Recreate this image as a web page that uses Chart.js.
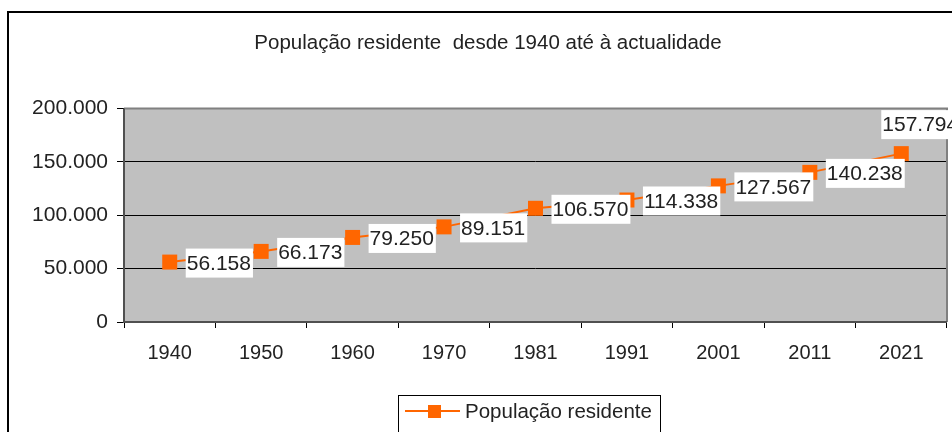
<!DOCTYPE html>
<html>
<head>
<meta charset="utf-8">
<script src="https://cdn.jsdelivr.net/npm/chart.js@4.4.1/dist/chart.umd.min.js"></script>
<style>
  html, body { margin: 0; padding: 0; background: #fff; }
  #wrap { width: 952px; height: 432px; position: relative; }
</style>
</head>
<body>
<div id="wrap"><canvas id="c" width="952" height="432"></canvas></div>
<script>
const chartTitle = 'População residente  desde 1940 até à actualidade';
const seriesName = 'População residente';
const years = ['1940', '1950', '1960', '1970', '1981', '1991', '2001', '2011', '2021'];
const population = [56158, 66173, 79250, 89151, 106570, 114338, 127567, 140238, 157794];
const yTicks = [0, 50000, 100000, 150000, 200000];

const FONT = '"Liberation Sans", Arial, Helvetica, sans-serif';
const TEXT = '#222222';
const ORANGE = '#FF6600';

function fmt(v) {
  return String(Math.round(v)).replace(/\B(?=(\d{3})+(?!\d))/g, '.');
}

const framePlugin = {
  id: 'frame',
  beforeDraw(chart) {
    const { ctx, chartArea: a } = chart;
    ctx.save();
    ctx.fillStyle = '#ffffff';
    ctx.fillRect(0, 0, chart.width, chart.height);
    ctx.fillStyle = '#C0C0C0';
    ctx.fillRect(a.left, a.top, a.right - a.left, a.bottom - a.top);
    ctx.strokeStyle = '#000';
    ctx.lineWidth = 2;
    ctx.strokeRect(8, 12, chart.width + 20, chart.height + 20);
    ctx.restore();
  },
  beforeDatasetsDraw(chart) {
    const { ctx, chartArea: a } = chart;
    ctx.save();
    ctx.strokeStyle = '#808080';
    ctx.lineWidth = 2;
    ctx.beginPath();
    ctx.moveTo(a.left, a.top);
    ctx.lineTo(a.right, a.top);
    ctx.lineTo(a.right, a.bottom);
    ctx.stroke();
    ctx.strokeStyle = '#505050';
    ctx.lineWidth = 2;
    ctx.beginPath();
    ctx.moveTo(a.left, a.top);
    ctx.lineTo(a.left, a.bottom);
    ctx.lineTo(a.right, a.bottom);
    ctx.stroke();
    ctx.restore();
  },
  afterDatasetsDraw(chart) {
    const { ctx } = chart;
    const meta = chart.getDatasetMeta(0);
    const data = chart.data.datasets[0].data;
    ctx.save();
    ctx.font = '21px ' + FONT;
    ctx.textBaseline = 'middle';
    ctx.textAlign = 'left';
    const n = meta.data.length;
    meta.data.forEach((pt, i) => {
      const txt = fmt(data[i]);
      const w = ctx.measureText(txt).width;
      const bw = w + 3, bh = 29;
      let bx, cy;
      if (i === n - 1) { bx = pt.x - 20; cy = pt.y - 29; }
      else { bx = pt.x + 16; cy = pt.y + 1; }
      ctx.fillStyle = '#ffffff';
      ctx.fillRect(bx, cy - bh / 2, bw, bh);
      ctx.fillStyle = TEXT;
      ctx.fillText(txt, bx + 1, cy + 1);
    });
    ctx.restore();
  },
  afterDraw(chart) {
    const { ctx } = chart;
    ctx.save();
    ctx.strokeStyle = '#000';
    ctx.lineWidth = 1;
    ctx.strokeRect(398.5, 395.5, 262, 60);
    ctx.strokeStyle = ORANGE;
    ctx.lineWidth = 2;
    ctx.beginPath();
    ctx.moveTo(405, 411);
    ctx.lineTo(460, 411);
    ctx.stroke();
    ctx.fillStyle = ORANGE;
    ctx.fillRect(428, 405, 13, 13);
    ctx.fillStyle = TEXT;
    ctx.font = '20.5px ' + FONT;
    ctx.textBaseline = 'middle';
    ctx.fillText(chart.data.datasets[0].label, 465, 412);
    ctx.restore();
  }
};

new Chart(document.getElementById('c'), {
  type: 'line',
  data: {
    labels: years,
    datasets: [{
      label: seriesName,
      data: population,
      borderColor: ORANGE,
      backgroundColor: ORANGE,
      borderWidth: 2,
      pointStyle: 'rect',
      pointRadius: 10.6,
      pointHoverRadius: 10.6,
      pointBorderWidth: 0,
      pointBackgroundColor: ORANGE,
      tension: 0,
      clip: false
    }]
  },
  options: {
    responsive: false,
    animation: false,
    events: [],
    layout: { autoPadding: false, padding: { left: 29, right: 5, top: 0, bottom: 0 } },
    plugins: {
      legend: { display: false },
      tooltip: { enabled: false },
      title: {
        display: true,
        text: chartTitle,
        color: TEXT,
        font: { family: FONT, size: 20.5, weight: 'normal', lineHeight: 1.2 },
        padding: { top: 31, bottom: 53 }
      }
    },
    scales: {
      x: {
        offset: true,
        grid: { display: true, offset: true, drawOnChartArea: false, drawTicks: true, tickLength: 6, color: '#000', lineWidth: 1 },
        border: { display: false },
        ticks: { color: TEXT, font: { family: FONT, size: 20 }, padding: 13, maxRotation: 0, autoSkip: false },
        afterFit(scale) { scale.height = 110; scale.paddingLeft = 0; scale.paddingRight = 0; }
      },
      y: {
        min: 0,
        max: 200000,
        afterBuildTicks(scale) { scale.ticks = yTicks.map(v => ({ value: v })); },
        grid: {
          color: (c) => (c.tick && c.tick.value === 200000) ? 'rgba(0,0,0,0)' : '#000',
          lineWidth: 1,
          tickLength: 7,
          tickColor: '#000',
          drawTicks: true
        },
        border: { display: false },
        ticks: { color: TEXT, font: { family: FONT, size: 21 }, padding: 9, callback: (v) => fmt(v) },
        afterFit(scale) { scale.width = 95; }
      }
    }
  },
  plugins: [framePlugin]
});
</script>
</body>
</html>
